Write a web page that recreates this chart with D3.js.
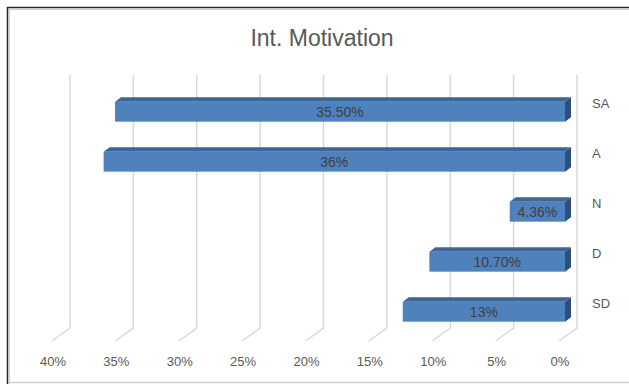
<!DOCTYPE html>
<html>
<head>
<meta charset="utf-8">
<script src="https://cdn.jsdelivr.net/npm/d3@7"></script>
<style>
  body { margin: 0; background: #fff; }
  text { font-family: "Liberation Sans", Arial, sans-serif; }
</style>
</head>
<body>
<div id="chart"></div>
<script>
// chart data
const categories = ['SA', 'A', 'N', 'D', 'SD']
const values = [35.5, 36.4, 4.36, 10.7, 12.8]
const valueLabels = ['35.50%', '36%', '4.36%', '10.70%', '13%']
const ticks = [0, 5, 10, 15, 20, 25, 30, 35, 40]
const title = 'Int. Motivation'

const width = 629, height = 384

const svg = d3.select('#chart')
    .append('svg')
    .attr('width', width)
    .attr('height', height)

// frame
svg.append('rect').attr('x', 0).attr('y', 0).attr('width', width).attr('height', height).attr('fill', '#fff')
svg.append('line').attr('x1', 7).attr('x2', width).attr('y1', 7.5).attr('y2', 7.5).attr('stroke', '#262626').attr('stroke-width', 1.5)
svg.append('line').attr('x1', 7.5).attr('x2', 7.5).attr('y1', 7).attr('y2', height).attr('stroke', '#262626').attr('stroke-width', 1.5)
svg.append('line').attr('x1', 9).attr('x2', width).attr('y1', 9.5).attr('y2', 9.5).attr('stroke', '#d0d0d0')
svg.append('line').attr('x1', 9.5).attr('x2', 9.5).attr('y1', 9).attr('y2', height).attr('stroke', '#d0d0d0')
svg.append('line').attr('x1', 9).attr('x2', width).attr('y1', 382.5).attr('y2', 382.5).attr('stroke', '#d0d0d0').attr('stroke-width', 1.5)

// title
svg.append('text')
    .attr('x', 322)
    .attr('y', 46)
    .attr('text-anchor', 'middle')
    .attr('font-size', 23)
    .attr('fill', '#595959')
    .text(title)

// back plane scales, 3d depth offset
const x = d3.scaleLinear().domain([0, 40]).range([577, 70])
const y = d3.scaleBand().domain(categories).range([78, 328]).paddingInner(0.6).paddingOuter(0.3)
const depth = {dx: -18, dy: 13}
const gridTop = 75, gridBottom = 328

// gridlines (back wall + floor)
svg.append('g').selectAll('path')
    .data(ticks)
    .join('path')
    .attr('d', d => `M${x(d)},${gridTop}V${gridBottom}l${depth.dx},${depth.dy}`)
    .attr('fill', 'none')
    .attr('stroke', '#d9d9d9')
    .attr('stroke-width', 1.5)

// tick labels on the front edge
svg.append('g').selectAll('text')
    .data(ticks)
    .join('text')
    .attr('x', d => x(d) + depth.dx + 1)
    .attr('y', 366)
    .attr('text-anchor', 'middle')
    .attr('font-size', 13)
    .attr('fill', '#595959')
    .text(d => d + '%')

// category labels
svg.append('g').selectAll('text')
    .data(categories)
    .join('text')
    .attr('x', 592)
    .attr('y', d => y(d) + y.bandwidth() / 2 + 5)
    .attr('font-size', 13)
    .attr('fill', '#595959')
    .text(d => d)

// bars: front at 2/3 of depth, back at 1/3
const f = {dx: depth.dx * 2 / 3, dy: depth.dy * 2 / 3}
const b = {dx: depth.dx / 3, dy: depth.dy / 3}
const bars = categories.map((c, i) => ({c, v: values[i], label: valueLabels[i]}))

const bar = svg.append('g').selectAll('g')
    .data(bars)
    .join('g')

const pts = p => p.map(q => q.join(',')).join(' ')

bar.append('polygon') // top face
    .attr('points', d => {
        const x0 = x(d.v), x1 = x(0), yt = y(d.c)
        return pts([[x0 + f.dx, yt + f.dy], [x1 + f.dx, yt + f.dy], [x1 + b.dx, yt + b.dy], [x0 + b.dx, yt + b.dy]])
    })
    .attr('fill', '#3d6596')

bar.append('polygon') // end face
    .attr('points', d => {
        const x1 = x(0), yt = y(d.c), yb = yt + y.bandwidth()
        return pts([[x1 + f.dx, yt + f.dy], [x1 + b.dx, yt + b.dy], [x1 + b.dx, yb + b.dy], [x1 + f.dx, yb + f.dy]])
    })
    .attr('fill', '#2f4f7b')

bar.append('rect') // front face
    .attr('x', d => x(d.v) + f.dx)
    .attr('y', d => y(d.c) + f.dy)
    .attr('width', d => x(0) - x(d.v))
    .attr('height', y.bandwidth())
    .attr('fill', '#4f81bd')

bar.append('text')
    .attr('x', d => (x(d.v) + x(0)) / 2 + f.dx)
    .attr('y', d => y(d.c) + f.dy + y.bandwidth() / 2 + 5)
    .attr('text-anchor', 'middle')
    .attr('font-size', 14)
    .attr('fill', '#404040')
    .text(d => d.label)
</script>
</body>
</html>
